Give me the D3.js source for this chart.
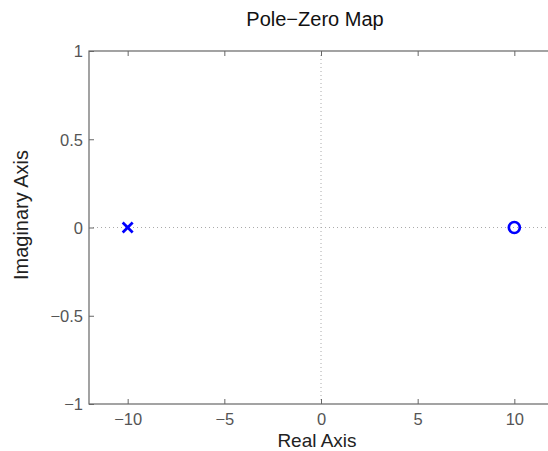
<!DOCTYPE html>
<html>
<head>
<meta charset="utf-8">
<script src="https://cdn.jsdelivr.net/npm/d3@7"></script>
<style>
  body { margin: 0; background: #fff; overflow: hidden; }
  text { font-family: "Liberation Sans", Arial, sans-serif; }
</style>
</head>
<body>
<div id="chart"></div>
<script>
// Pole-zero data
const poles = [{ re: -10, im: 0 }];
const zeros = [{ re: 10, im: 0 }];
const xTicks = [-10, -5, 0, 5, 10];
const yTicks = [-1, -0.5, 0, 0.5, 1];

const W = 548, H = 451;
const plot = { left: 89, top: 51, right: 553, bottom: 404 };

const svg = d3.select('#chart').append('svg')
    .attr('width', W).attr('height', H);

const x = d3.scaleLinear().domain([-12, 12]).range([plot.left, plot.right]);
const y = d3.scaleLinear().domain([-1, 1]).range([plot.bottom, plot.top]);

const axisColor = '#666';
const labelColor = '#555';
const fmt = d => d3.format('')(d).replace('-', '\u2212');

// frame
svg.append('rect')
    .attr('x', plot.left).attr('y', plot.top)
    .attr('width', plot.right - plot.left).attr('height', plot.bottom - plot.top)
    .attr('fill', '#fff').attr('stroke', axisColor).attr('stroke-width', 1.2);

// dotted zero lines
svg.append('line')
    .attr('x1', x(0)).attr('x2', x(0)).attr('y1', plot.top).attr('y2', plot.bottom)
    .attr('stroke', '#aaa').attr('stroke-dasharray', '1,3');
svg.append('line')
    .attr('x1', plot.left).attr('x2', plot.right).attr('y1', y(0)).attr('y2', y(0))
    .attr('stroke', '#aaa').attr('stroke-dasharray', '1,3');

// axes
const gx = svg.append('g').attr('transform', `translate(0,${plot.bottom})`)
    .call(d3.axisBottom(x).tickValues(xTicks).tickSize(-5).tickFormat(fmt));
const gy = svg.append('g').attr('transform', `translate(${plot.left},0)`)
    .call(d3.axisLeft(y).tickValues(yTicks).tickSize(-5).tickFormat(fmt));
const gxTop = svg.append('g').attr('transform', `translate(0,${plot.top})`)
    .call(d3.axisTop(x).tickValues(xTicks).tickSize(-5).tickFormat(''));
const gyRight = svg.append('g').attr('transform', `translate(${plot.right},0)`)
    .call(d3.axisRight(y).tickValues(yTicks).tickSize(-5).tickFormat(''));

[gx, gy, gxTop, gyRight].forEach(g => {
    g.select('.domain').remove();
    g.selectAll('.tick line').attr('stroke', axisColor);
    g.selectAll('.tick text').attr('fill', labelColor).style('font-size', '16.5px');
});
gx.selectAll('.tick text').attr('y', 21).attr('dy', 0);
gy.selectAll('.tick text').attr('x', -6).attr('dy', '0.36em');

// poles (x marks)
const s = 5;
svg.selectAll('.pole').data(poles).enter().append('path')
    .attr('class', 'pole')
    .attr('d', d => {
        const cx = x(d.re), cy = y(d.im);
        return `M${cx - s},${cy - s}L${cx + s},${cy + s}M${cx - s},${cy + s}L${cx + s},${cy - s}`;
    })
    .attr('stroke', '#0000ff').attr('stroke-width', 2.7).attr('fill', 'none');

// zeros (circles)
svg.selectAll('.zero').data(zeros).enter().append('circle')
    .attr('class', 'zero')
    .attr('cx', d => x(d.re)).attr('cy', d => y(d.im)).attr('r', 5.5)
    .attr('stroke', '#0000ff').attr('stroke-width', 2.7).attr('fill', 'none');

// labels
svg.append('text').attr('x', 315).attr('y', 26).attr('text-anchor', 'middle')
    .attr('fill', '#111').style('font-size', '20px').text('Pole\u2212Zero Map');
svg.append('text').attr('x', 317).attr('y', 447).attr('text-anchor', 'middle')
    .attr('fill', '#222').style('font-size', '19px').text('Real Axis');
svg.append('text').attr('transform', 'translate(28,215) rotate(-90)')
    .attr('text-anchor', 'middle')
    .attr('fill', '#222').style('font-size', '20px').text('Imaginary Axis');
</script>
</body>
</html>
